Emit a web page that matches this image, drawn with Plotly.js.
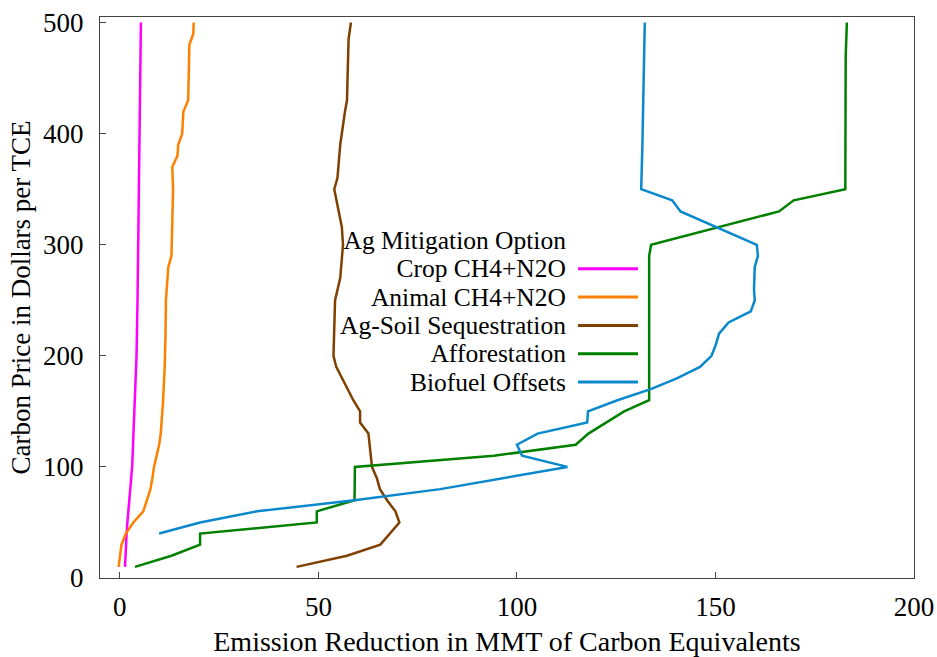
<!DOCTYPE html>
<html>
<head>
<meta charset="utf-8">
<script src="https://cdn.plot.ly/plotly-3.0.1.min.js"></script>
<style>html,body{margin:0;padding:0;background:#fff;}#chart{width:937px;height:657px;}</style>
</head>
<body>
<div id="chart"></div>
<script>
// ---- Data ----
const seriesNames = ["Crop CH4+N2O", "Animal CH4+N2O", "Ag-Soil Sequestration", "Afforestation", "Biofuel Offsets"];
const legendTitle = "Ag Mitigation Option";

const cropY = [10,20,30,40,50,60,70,80,90,100,120,140,160,180,200,250,300,350,400,450,500];
const cropX = [1.3,1.4,1.55,1.7,1.9,2.1,2.35,2.6,2.85,3.1,3.35,3.5,3.7,4.0,4.2,4.45,4.6,4.85,5.0,5.15,5.3];

const animalY = [10,20,30,40,50,60,70,80,90,100,120,130,160,190,220,250,280,290,320,350,370,380,390,400,420,430,460,480,490,500];
const animalX = [-0.3,0.1,0.4,1.5,3.4,5.9,6.8,7.7,8.2,8.6,9.9,10.3,10.9,11.3,11.5,11.6,12.2,13.0,13.2,13.4,13.2,14.5,14.7,15.7,16.0,17.2,17.4,17.5,18.5,18.6];

const soilY = [10,20,30,40,50,60,70,80,90,100,110,120,130,140,150,160,170,180,190,200,220,250,270,300,316,337,350,360,390,420,430,485,500];
const soilX = [44.5,57.2,65.6,68.0,70.4,69.4,67.3,65.5,64.7,63.5,63.2,63.0,62.6,60.5,60.5,58.8,57.3,55.9,54.5,53.8,54.0,54.2,55.5,56.2,55.9,54.8,54.0,54.8,55.5,56.7,57.2,57.6,58.2];

const forestY = [10,20,30,40,50,60,70,100,110,120,130,150,160,290,300,330,340,350,470,500];
const forestX = [3.8,13.0,20.2,20.2,49.6,49.6,59.1,59.2,94.2,114.8,118.0,127.0,133.3,133.3,133.8,166.0,169.7,182.7,182.8,183.1];

const bioY = [40,50,60,70,80,90,100,110,120,130,140,150,160,170,180,190,200,210,220,230,240,250,260,280,290,300,330,340,350,390,430,480,500];
const bioX = [9.9,20.2,34.5,59.1,80.7,97.0,112.7,101.3,100.0,105.2,117.7,117.9,125.3,133.7,140.4,146.1,149.0,150.1,150.9,153.3,158.9,159.9,159.7,159.9,160.7,160.4,141.2,139.1,131.3,131.6,131.8,132.0,132.2];

const xTicks = [0,50,100,150,200];
const yTicks = [0,100,200,300,400,500];
const xTitle = "Emission Reduction in MMT of Carbon Equivalents";
const yTitle = "Carbon Price in Dollars per TCE";

// ---- Styles ----
const colors = ["#ff00ff", "#ff8000", "#804000", "#008000", "#0a88cc"];
const FONT = '"Liberation Serif", "Times New Roman", Times, serif';
const FS = 27;
const LFS = 25.5;        // legend glyph size
const ROW = 28.3;        // legend row pitch in px
const BASE = ROW / 1.3;  // base font so that Plotly's 1.3em line spacing equals ROW
const LEG_MID = 311;     // vertical centre of the legend block (px)

const xs = [cropX, animalX, soilX, forestX, bioX];
const ys = [cropY, animalY, soilY, forestY, bioY];

const traces = seriesNames.map((n, i) => ({
  type: "scatter", mode: "lines", name: n,
  x: xs[i], y: ys[i],
  line: {color: colors[i], width: 2.5},
  showlegend: false, hoverinfo: "skip"
}));

// plot area in pixels
const L = 100, R = 23, T = 16.5, B = 79, W = 937, H = 657;
const pw = W - L - R, ph = H - T - B;
const px2x = p => (p - L) / pw;
const py2y = p => (H - B - p) / ph;

const legendLines = [legendTitle].concat(seriesNames)
  .map(s => '<span style="font-size:' + LFS + 'px">' + s + '</span>').join("<br>");

const annotations = [{
  xref: "paper", yref: "paper", x: px2x(567), y: py2y(LEG_MID), xanchor: "right", yanchor: "middle",
  align: "right", text: legendLines, showarrow: false, borderpad: 0,
  font: {family: FONT, size: BASE, color: "#000"}
}];
const shapes = [];
const firstRow = LEG_MID - 2.5 * ROW;
seriesNames.forEach((n, i) => {
  const py = firstRow + (i + 1) * ROW;
  shapes.push({type: "line", xref: "paper", yref: "paper", x0: px2x(578), x1: px2x(638),
    y0: py2y(py), y1: py2y(py), line: {color: colors[i], width: 3}});
});

const layout = {
  width: W, height: H,
  margin: {l: L, r: R, t: T, b: B, pad: 0},
  paper_bgcolor: "#fff", plot_bgcolor: "#fff",
  font: {family: FONT, size: FS, color: "#000"},
  showlegend: false,
  xaxis: {
    range: [-5, 200], tickvals: xTicks, ticktext: xTicks.map(String),
    ticks: "inside", ticklen: 6, tickcolor: "#444", tickwidth: 1,
    showline: true, linecolor: "#444", linewidth: 1.2, mirror: true,
    showgrid: false, zeroline: false,
    ticklabelstandoff: 4,
    tickfont: {family: FONT, size: FS, color: "#000"},
    title: {text: xTitle, font: {family: FONT, size: 28, color: "#000"}, standoff: 19}
  },
  yaxis: {
    range: [0, 505], tickvals: yTicks, ticktext: yTicks.map(String),
    ticks: "inside", ticklen: 6, tickcolor: "#444", tickwidth: 1,
    showline: true, linecolor: "#444", linewidth: 1.2, mirror: true,
    showgrid: false, zeroline: false,
    ticklabelstandoff: 10,
    tickfont: {family: FONT, size: FS, color: "#000"},
    title: {text: yTitle, font: {family: FONT, size: FS, color: "#000"}, standoff: 4}
  },
  annotations: annotations,
  shapes: shapes
};

Plotly.newPlot("chart", traces, layout, {staticPlot: true, displayModeBar: false});
</script>
</body>
</html>
